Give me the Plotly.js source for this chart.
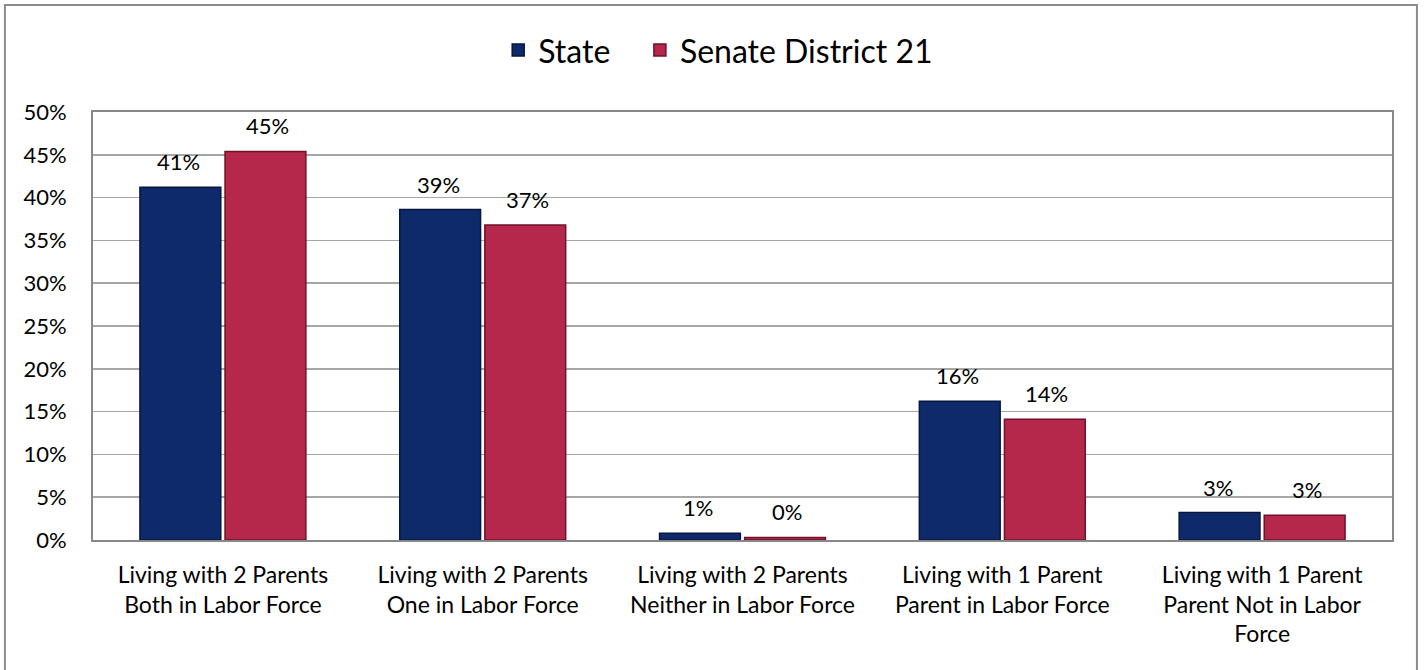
<!DOCTYPE html>
<html>
<head>
<meta charset="utf-8">
<script src="https://cdn.plot.ly/plotly-3.0.1.min.js"></script>
<style>html,body{margin:0;padding:0;background:#fff;}#chart{width:1425px;height:670px;}</style>
</head>
<body>
<div id="chart"></div>
<script>
const categories = [
  "Living with 2 Parents<br>Both in Labor Force",
  "Living with 2 Parents<br>One in Labor Force",
  "Living with 2 Parents<br>Neither in Labor Force",
  "Living with 1 Parent<br>Parent in Labor Force",
  "Living with 1 Parent<br>Parent Not in Labor<br>Force"
];
const stateValues = [0.412, 0.386, 0.008, 0.162, 0.032];
const districtValues = [0.454, 0.368, 0.003, 0.141, 0.029];
const seriesNames = ["State", "Senate District 21"];
const yTicks = [0, 0.05, 0.10, 0.15, 0.20, 0.25, 0.30, 0.35, 0.40, 0.45, 0.50];

const FONT = "Lato, 'Open Sans', sans-serif";
const colors = ["#0f2a6b", "#b5284c"];
const lineColors = ["#07163d", "#6e1229"];
const seriesValues = [stateValues, districtValues];
const offsets = [-44.5, 44.5];
const legendPad = ["\u00a0\u00a0\u00a0", ""];

const traces = seriesValues.map((vals, i) => ({
  type: "bar", name: seriesNames[i] + legendPad[i], x: categories, y: vals,
  marker: {color: colors[i], line: {color: lineColors[i], width: 1.5}},
  hoverinfo: "skip"
}));

const annotations = [];
seriesValues.forEach((vals, i) => {
  vals.forEach((v, j) => {
    annotations.push({
      x: categories[j], y: v, xref: "x", yref: "y",
      text: Math.round(v * 100) + "%", showarrow: false,
      xshift: offsets[i], yshift: 10, yanchor: "bottom",
      font: {family: FONT, size: 22, color: "#000"}
    });
  });
});

const layout = {
  width: 1425, height: 670,
  margin: {l: 93, r: 33, t: 112, b: 130},
  paper_bgcolor: "#fff", plot_bgcolor: "#fff",
  font: {family: FONT, size: 22, color: "#000"},
  barmode: "group", bargap: 0.345, bargroupgap: 0.05,
  showlegend: true,
  legend: {orientation: "h", xref: "container", x: 0.504, xanchor: "center",
           yref: "container", y: 0.925, yanchor: "middle",
           font: {family: FONT, size: 32, color: "#000"}, itemwidth: 30},
  xaxis: {
    showline: true, linecolor: "#888", linewidth: 2, mirror: true,
    ticks: "", tickfont: {family: FONT, size: 23, color: "#000"},
    ticklabelstandoff: 13, automargin: false
  },
  yaxis: {
    range: [0, 0.5], tickvals: yTicks, tickformat: ".0%",
    showgrid: true, gridcolor: "#a6a6a6", gridwidth: 1.5,
    showline: true, linecolor: "#888", linewidth: 2, mirror: true,
    zeroline: false, ticks: "", ticklen: 0, ticklabelstandoff: 20,
    tickfont: {family: FONT, size: 22, color: "#000"}, automargin: false
  },
  annotations: annotations,
  shapes: [{
    type: "rect", xref: "paper", yref: "paper",
    x0: -0.0678, x1: 1.0192, y0: -0.4, y1: 1.25,
    line: {color: "#8c8c8c", width: 2}, fillcolor: "rgba(0,0,0,0)", layer: "below"
  }]
};

Plotly.newPlot("chart", traces, layout, {displayModeBar: false, staticPlot: true});
</script>
</body>
</html>
